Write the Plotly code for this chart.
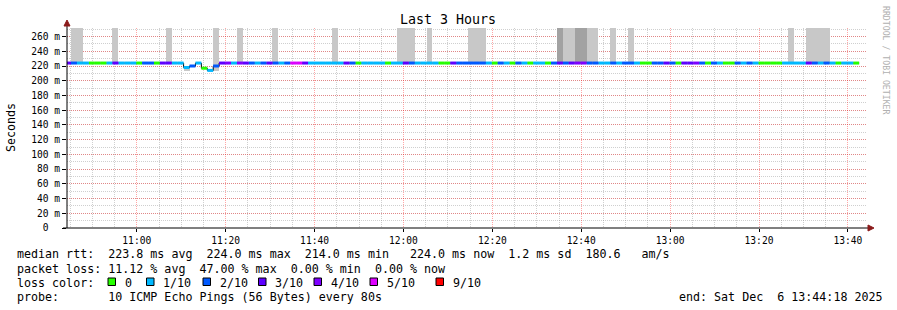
import plotly.graph_objects as go
import pandas as pd

# ---------------- data ----------------
start_time = "2025-12-06 10:43:52"   # start of first (partially visible) 80 s step
step_seconds = 80
range_start = "2025-12-06 10:44:18"
range_end = "2025-12-06 13:44:18"

# median RTT per step (seconds)
median_s = [
    0.224, 0.224, 0.224, 0.224, 0.224, 0.224, 0.224, 0.224, 0.224, 0.224,
    0.224, 0.224, 0.224, 0.224, 0.224, 0.224, 0.224, 0.224, 0.224, 0.224,
    0.218, 0.220, 0.224, 0.217, 0.214, 0.220, 0.224, 0.224, 0.224, 0.224,
    0.224, 0.224, 0.224, 0.224, 0.224, 0.224, 0.224, 0.224, 0.224, 0.224,
    0.224, 0.224, 0.224, 0.224, 0.224, 0.224, 0.224, 0.224, 0.224, 0.224,
    0.224, 0.224, 0.224, 0.224, 0.224, 0.224, 0.224, 0.224, 0.224, 0.224,
    0.224, 0.224, 0.224, 0.224, 0.224, 0.224, 0.224, 0.224, 0.224, 0.224,
    0.224, 0.224, 0.224, 0.224, 0.224, 0.224, 0.224, 0.224, 0.224, 0.224,
    0.224, 0.224, 0.224, 0.224, 0.224, 0.224, 0.224, 0.224, 0.224, 0.224,
    0.224, 0.224, 0.224, 0.224, 0.224, 0.224, 0.224, 0.224, 0.224, 0.224,
    0.224, 0.224, 0.224, 0.224, 0.224, 0.224, 0.224, 0.224, 0.224, 0.224,
    0.224, 0.224, 0.224, 0.224, 0.224, 0.224, 0.224, 0.224, 0.224, 0.224,
    0.224, 0.224, 0.224, 0.224, 0.224, 0.224, 0.224, 0.224, 0.224, 0.224,
    0.224, 0.224, 0.224, 0.224,
]

# lost pings (out of 10) per step
loss_count = [
    3, 2, 1, 1, 0, 0, 0, 1, 3, 1,
    1, 1, 0, 2, 2, 0, 3, 3, 1, 1,
    1, 2, 1, 0, 1, 2, 3, 4, 1, 4,
    3, 2, 1, 2, 3, 2, 1, 2, 5, 5,
    3, 1, 1, 1, 1, 1, 1, 3, 2, 0,
    1, 1, 1, 1, 0, 1, 1, 3, 2, 1,
    1, 1, 1, 0, 0, 3, 2, 2, 2, 2,
    2, 1, 0, 2, 1, 0, 2, 1, 0, 1,
    1, 0, 2, 3, 2, 3, 4, 4, 2, 2,
    1, 1, 2, 1, 2, 2, 1, 0, 0, 2,
    2, 3, 2, 0, 3, 3, 4, 2, 0, 2,
    1, 0, 0, 2, 1, 2, 1, 0, 0, 0,
    0, 1, 1, 1, 1, 3, 2, 1, 2, 1,
    0, 1, 1, 0,
]

# smoke (spread of individual pings) for the steps that show it
smoke_steps = [1, 2, 8, 17, 20, 25, 29, 35, 45, 56, 57, 58, 61, 68, 69, 70,
               83, 84, 85, 86, 87, 88, 89, 92, 95, 122, 125, 126, 127, 128]
smoke_lo = [0.224, 0.224, 0.224, 0.224, 0.2135, 0.2135, 0.224, 0.224, 0.224, 0.224,
            0.224, 0.224, 0.224, 0.224, 0.224, 0.224, 0.224, 0.224, 0.224, 0.224,
            0.224, 0.224, 0.224, 0.224, 0.224, 0.224, 0.224, 0.224, 0.224, 0.224]
smoke_hi = [0.30, 0.30, 0.30, 0.30, 0.218, 0.30, 0.30, 0.30, 0.30, 0.30,
            0.30, 0.30, 0.30, 0.30, 0.30, 0.30, 0.30, 0.30, 0.30, 0.30,
            0.30, 0.30, 0.30, 0.30, 0.30, 0.30, 0.30, 0.30, 0.30, 0.30]
smoke_dark = [0, 0, 0, 0, 0, 0, 0, 0, 0, 0,
              0, 0, 0, 0, 0, 0, 1, 0, 0, 1,
              1, 0, 0, 0, 0, 0, 0, 0, 0, 0]

loss_levels = [0, 1, 2, 3, 4, 5, 9]
loss_labels = ["0", "1/10", "2/10", "3/10", "4/10", "5/10", "9/10"]
loss_colors = ["#26ff00", "#00b8ff", "#0059ff", "#5e00ff", "#7e00ff", "#dd00ff", "#ff0000"]

ytick_vals = [0, 0.02, 0.04, 0.06, 0.08, 0.10, 0.12, 0.14, 0.16, 0.18, 0.20, 0.22, 0.24, 0.26]
ytick_text = ["0\u00a0\u00a0", "20 m", "40 m", "60 m", "80 m", "100 m", "120 m", "140 m",
              "160 m", "180 m", "200 m", "220 m", "240 m", "260 m"]

legend_rows = [
    "median rtt:  223.8 ms avg  224.0 ms max  214.0 ms min   224.0 ms now  1.2 ms sd  180.6   am/s",
    "packet loss: 11.12 % avg  47.00 % max  0.00 % min  0.00 % now",
    "loss color:",
    "probe:       10 ICMP Echo Pings (56 Bytes) every 80s",
]
end_text = "end: Sat Dec  6 13:44:18 2025"
title_text = "Last 3 Hours"

# ---------------- layout helpers ----------------
W, H = 897, 310
PL, PT, PW, PH = 67, 28, 800, 200
MONO = "DejaVu Sans Mono"


def px(x):
    return (x - PL) / PW


def py(y):
    return (PT + PH - y) / PH


def nb(s):
    return s.replace(" ", "\u00a0")


times = pd.date_range(start_time, periods=len(median_s) + 1, freq=f"{step_seconds}s")
tstr = [t.strftime("%Y-%m-%d %H:%M:%S") for t in times]
starts, ends = tstr[:-1], tstr[1:]

fig = go.Figure()

# smoke bars
for dark, col in [(0, "#c8c8c8"), (1, "#a2a2a2")]:
    idx = [k for k in range(len(smoke_steps)) if smoke_dark[k] == dark]
    fig.add_trace(go.Bar(
        x=[starts[smoke_steps[k]] for k in idx],
        y=[smoke_hi[k] - smoke_lo[k] for k in idx],
        base=[smoke_lo[k] for k in idx],
        width=step_seconds * 1000, offset=0,
        marker=dict(color=col, line=dict(width=0)),
        showlegend=False, hoverinfo="skip",
    ))

# thin black median step line
fig.add_trace(go.Scatter(
    x=starts + [ends[-1]], y=median_s + [median_s[-1]],
    mode="lines", line=dict(color="#000000", width=1, shape="hv"),
    showlegend=False, hoverinfo="skip",
))

# coloured median segments by loss level
for lvl, col in zip(loss_levels, loss_colors):
    xs, ys = [], []
    for j, (m, l) in enumerate(zip(median_s, loss_count)):
        if l == lvl:
            xs += [starts[j], ends[j], None]
            ys += [m, m, None]
    if xs:
        fig.add_trace(go.Scatter(
            x=xs, y=ys, mode="lines", line=dict(color=col, width=3),
            connectgaps=False, showlegend=False, hoverinfo="skip",
        ))

GRID_MINOR = "rgba(128,128,128,0.38)"
GRID_MAJOR = "rgba(255,0,0,0.35)"

fig.update_xaxes(
    type="date", range=[range_start, range_end],
    tick0="2025-12-06 11:00:00", dtick=20 * 60 * 1000, tickformat="%H:%M",
    showgrid=True, gridcolor=GRID_MAJOR, griddash="1px,1px", gridwidth=1,
    minor=dict(tick0="2025-12-06 11:00:00", dtick=5 * 60 * 1000, showgrid=True,
               gridcolor=GRID_MINOR, griddash="1px,1px", gridwidth=1),
    ticks="outside", ticklen=3, tickcolor="#000000",
    tickfont=dict(family=MONO, size=9.6, color="#000000"),
    showline=False, zeroline=False, fixedrange=True,
)
fig.update_yaxes(
    range=[0, 0.2716],
    tickvals=ytick_vals, ticktext=ytick_text,
    showgrid=True, gridcolor=GRID_MAJOR, griddash="1px,1px", gridwidth=1,
    minor=dict(tick0=0, dtick=0.01, showgrid=True,
               gridcolor=GRID_MINOR, griddash="1px,1px", gridwidth=1),
    ticks="outside", ticklen=4, tickcolor="#000000",
    tickfont=dict(family=MONO, size=9.6, color="#000000"),
    showline=False, zeroline=False, fixedrange=True,
)

ARROW = "#8b1a1a"
shapes = [
    # y axis line + arrow
    dict(type="line", xref="paper", yref="paper", x0=px(67), x1=px(67), y0=py(228), y1=py(24),
         line=dict(color="#000000", width=1), layer="above"),
    dict(type="path", xref="paper", yref="paper",
         path=f"M {px(64)},{py(26)} L {px(70)},{py(26)} L {px(67)},{py(20)} Z",
         fillcolor=ARROW, line=dict(color=ARROW, width=1), layer="above"),
    # x axis line + arrow
    dict(type="line", xref="paper", yref="paper", x0=px(63), x1=px(869), y0=py(228), y1=py(228),
         line=dict(color="#000000", width=1), layer="above"),
    dict(type="path", xref="paper", yref="paper",
         path=f"M {px(868)},{py(225)} L {px(868)},{py(231)} L {px(874)},{py(228)} Z",
         fillcolor=ARROW, line=dict(color=ARROW, width=1), layer="above"),
]

annotations = []


def add_text(text, x, y, size=11.66, color="#000000", anchor="left", angle=0):
    annotations.append(dict(
        text=nb(text), x=px(x), y=py(y), xref="paper", yref="paper",
        xanchor=anchor, yanchor="middle", showarrow=False, borderpad=0,
        textangle=angle, font=dict(family=MONO, size=size, color=color),
    ))


add_text(title_text, 448, 20, size=13.3, anchor="center")
add_text("Seconds", 11, 127, anchor="center", angle=-90)
add_text("RRDTOOL / TOBI OETIKER", 886, 60, size=8.2, color="#b0b0b0", anchor="center", angle=90)

row_y = [254, 268.5, 282.5, 296.5]
for txt, yy in zip(legend_rows, row_y):
    add_text(txt, 15.5, yy)
add_text(end_text, 677.5, row_y[3])

box_x = [108, 146.5, 203, 258.5, 314, 370, 436]
for bx, lab, col in zip(box_x, loss_labels, loss_colors):
    shapes.append(dict(type="rect", xref="paper", yref="paper",
                       x0=px(bx), x1=px(bx + 7.5), y0=py(285.5), y1=py(278),
                       fillcolor=col, line=dict(color="#000000", width=1), layer="above"))
    add_text(lab, bx + 15.5, row_y[2])

fig.update_layout(
    width=W, height=H, autosize=False,
    margin=dict(l=PL, r=W - PL - PW, t=PT, b=H - PT - PH, pad=0),
    paper_bgcolor="#ffffff", plot_bgcolor="#ffffff",
    barmode="overlay", bargap=0, showlegend=False,
    shapes=shapes, annotations=annotations,
    font=dict(family=MONO, color="#000000"),
)

fig.write_html("out.html", config={"displayModeBar": False, "staticPlot": True})
